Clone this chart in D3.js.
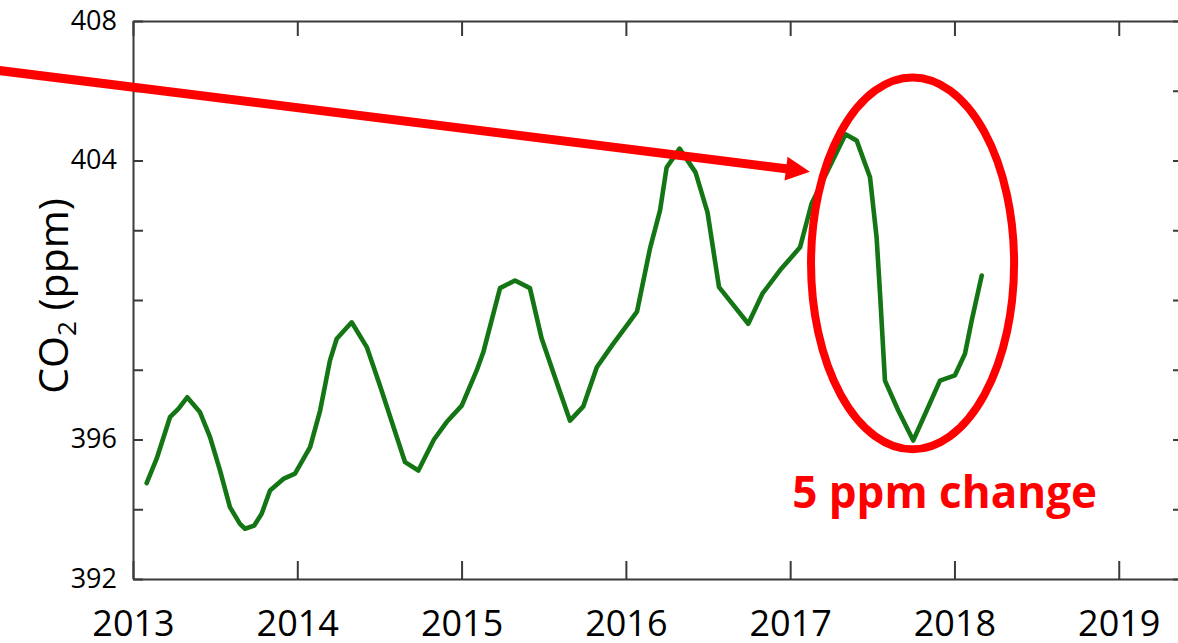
<!DOCTYPE html>
<html>
<head>
<meta charset="utf-8">
<script src="https://cdn.jsdelivr.net/npm/d3@7"></script>
<style>
  body { margin: 0; background: #fff; }
  svg { display: block; }
</style>
</head>
<body>
<svg id="chart" width="1178" height="643"></svg>
<script>
// Monthly-ish CO2 record, decimal year vs. ppm
const years = [
  2013.083, 2013.144, 2013.225, 2013.276, 2013.330, 2013.408, 2013.469, 2013.530,
  2013.590, 2013.651, 2013.682, 2013.737, 2013.783, 2013.834, 2013.915, 2013.986,
  2014.078, 2014.139, 2014.199, 2014.240, 2014.331, 2014.423, 2014.503, 2014.656,
  2014.737, 2014.832, 2014.909, 2015.001, 2015.092, 2015.132, 2015.234, 2015.325,
  2015.416, 2015.487, 2015.575, 2015.660, 2015.741, 2015.823, 2015.916, 2016.068,
  2016.147, 2016.208, 2016.248, 2016.327, 2016.424, 2016.497, 2016.567, 2016.745,
  2016.831, 2016.938, 2017.060, 2017.130, 2017.337, 2017.405, 2017.486, 2017.526,
  2017.547, 2017.577, 2017.658, 2017.749, 2017.831, 2017.912, 2018.003, 2018.064,
  2018.105, 2018.166
];
const co2 = [
  394.75, 395.45, 396.64, 396.88, 397.21, 396.78, 396.07, 395.11,
  394.06, 393.58, 393.44, 393.53, 393.87, 394.54, 394.87, 395.02,
  395.78, 396.83, 398.27, 398.89, 399.36, 398.65, 397.55, 395.35,
  395.11, 396.00, 396.50, 396.97, 397.98, 398.50, 400.34, 400.56,
  400.34, 398.90, 397.69, 396.54, 396.95, 398.07, 398.70, 399.67,
  401.48, 402.57, 403.80, 404.34, 403.66, 402.51, 400.37, 399.32,
  400.18, 400.85, 401.51, 402.76, 404.75, 404.57, 403.52, 401.80,
  400.18, 397.69, 396.83, 395.97, 396.83, 397.69, 397.84, 398.46,
  399.41, 400.70
];
const yearTicks = [2013, 2014, 2015, 2016, 2017, 2018, 2019];
const ppmTicks = [392, 394, 396, 398, 400, 402, 404, 406, 408];
const ppmLabelled = [392, 396, 404, 408];

// Annotation anchors in data units
const arrowFrom = [2012.15, 406.6];
const arrowTip = [2017.12, 403.68];
const ringCenter = [2017.745, 401.05];
const ringRadius = [0.618, 5.33];   // years, ppm
const noteAt = [2017.94, 394.05];
const noteText = "5 ppm change";

const svg = d3.select("#chart");
const plotLeft = 133, plotRight = 1182, plotTop = 21, plotBottom = 579;

const x = d3.scaleLinear().domain([2013, 2019.385]).range([plotLeft, plotRight]);
const y = d3.scaleLinear().domain([392, 408]).range([plotBottom, plotTop]);

const axisColor = "#3a3a3a";
const font = "'Open Sans', 'DejaVu Sans', sans-serif";

function styleAxis(g) {
  g.select(".domain").attr("stroke", axisColor).attr("stroke-width", 2);
  g.selectAll(".tick line").attr("stroke", axisColor).attr("stroke-width", 2);
  g.selectAll(".tick text").attr("fill", "#000").style("font-family", font);
}

// Bottom axis (ticks point inward)
svg.append("g")
  .attr("transform", `translate(0,${plotBottom})`)
  .call(d3.axisBottom(x).tickValues(yearTicks).tickFormat(d3.format("d"))
    .tickSize(-18).tickSizeOuter(0).tickPadding(31))
  .call(styleAxis)
  .call(g => g.selectAll(".tick text").style("font-size", "36px"));

// Top frame
svg.append("g")
  .attr("transform", `translate(0,${plotTop})`)
  .call(d3.axisTop(x).tickValues(yearTicks).tickFormat("")
    .tickSize(-15).tickSizeOuter(0))
  .call(styleAxis);

// Left axis
svg.append("g")
  .attr("transform", `translate(${plotLeft},0)`)
  .call(d3.axisLeft(y).tickValues(ppmTicks)
    .tickFormat(d => ppmLabelled.includes(d) ? d : "")
    .tickSize(-10).tickSizeOuter(0).tickPadding(16))
  .call(styleAxis)
  .call(g => g.selectAll(".tick text").style("font-size", "27px").attr("dy", "0.3em"));

// Right frame
svg.append("g")
  .attr("transform", `translate(${plotRight},0)`)
  .call(d3.axisRight(y).tickValues(ppmTicks).tickFormat("")
    .tickSize(-9).tickSizeOuter(0))
  .call(styleAxis);

// Y axis title
const title = svg.append("text")
  .attr("transform", `translate(68,296) rotate(-90)`)
  .attr("text-anchor", "middle")
  .style("font-family", font)
  .style("font-size", "41px")
  .attr("fill", "#000");
title.append("tspan").text("CO");
title.append("tspan").text("2").style("font-size", "26px").attr("dy", 8);
title.append("tspan").text(" (ppm)").attr("dy", -8);

// CO2 series
const series = years.map((t, i) => [t, co2[i]]);
svg.append("path")
  .datum(series)
  .attr("fill", "none")
  .attr("stroke", "#137513")
  .attr("stroke-width", 4.6)
  .attr("stroke-linejoin", "round")
  .attr("stroke-linecap", "round")
  .attr("d", d3.line().x(d => x(d[0])).y(d => y(d[1])));

// Red arrow
const red = "#ff0000";
const p0 = [x(arrowFrom[0]), y(arrowFrom[1])];
const p1 = [x(arrowTip[0]), y(arrowTip[1])];
const dx = p1[0] - p0[0], dy = p1[1] - p0[1];
const len = Math.hypot(dx, dy);
const ux = dx / len, uy = dy / len;
const headLen = 24, headHalf = 12;
const base = [p1[0] - ux * headLen, p1[1] - uy * headLen];
svg.append("line")
  .attr("x1", p0[0]).attr("y1", p0[1])
  .attr("x2", base[0] + ux * 2).attr("y2", base[1] + uy * 2)
  .attr("stroke", red).attr("stroke-width", 9);
svg.append("polygon")
  .attr("points", [
    p1,
    [base[0] - uy * headHalf, base[1] + ux * headHalf],
    [base[0] + uy * headHalf, base[1] - ux * headHalf]
  ].map(p => p.join(",")).join(" "))
  .attr("fill", red);

// Ring around the 2017 drop
const cx = x(ringCenter[0]), cy = y(ringCenter[1]);
svg.append("ellipse")
  .attr("cx", cx).attr("cy", cy)
  .attr("rx", x(ringCenter[0] + ringRadius[0]) - cx)
  .attr("ry", y(ringCenter[1] - ringRadius[1]) - cy)
  .attr("fill", "none")
  .attr("stroke", red)
  .attr("stroke-width", 8);

// Note text
svg.append("text")
  .attr("x", x(noteAt[0])).attr("y", y(noteAt[1]))
  .attr("text-anchor", "middle")
  .style("font-family", font)
  .style("font-size", "44px")
  .style("font-weight", "bold")
  .attr("fill", red)
  .text(noteText);
</script>
</body>
</html>
